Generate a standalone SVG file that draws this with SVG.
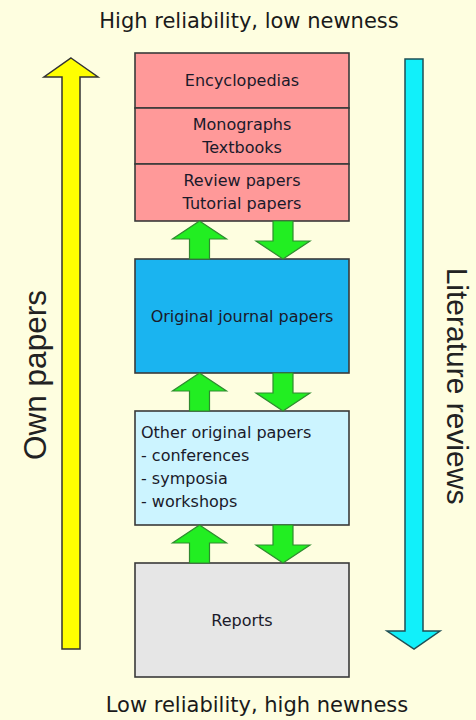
<svg xmlns="http://www.w3.org/2000/svg" xmlns:xlink="http://www.w3.org/1999/xlink" width="476" height="720" viewBox="0 0 476 720">
<style>
.bg{fill:#FEFEE0}
.box{stroke:#3a3a3a;stroke-width:1.6}
.t{font-family:"DejaVu Sans",Verdana,sans-serif;font-size:16px;fill:#1a1a2a}
.tc{text-anchor:middle}
.big{font-family:"DejaVu Sans",Verdana,sans-serif;font-size:21px;fill:#1a1a1a;text-anchor:middle}
.side{font-family:"Liberation Sans",Arial,sans-serif;fill:#222;text-anchor:middle}
.g{fill:#22EE22;stroke:#2E8B2E;stroke-width:1.2}
</style>
<defs>
<path id="up" d="M0,0 L27,18 L10,18 L10,38 L-10,38 L-10,18 L-27,18 Z"/>
<path id="down" d="M0,0 L27,-18 L10,-18 L10,-38 L-10,-38 L-10,-18 L-27,-18 Z"/>
</defs>
<rect class="bg" x="0" y="0" width="476" height="720"/>
<text class="big" x="249" y="28">High reliability, low newness</text>
<text class="big" x="257" y="712">Low reliability, high newness</text>

<g id="own-papers-arrow">
<path d="M71,58 L98,77 L80,77 L80,649 L62,649 L62,77 L44,77 Z" fill="#FFFF00" stroke="#333" stroke-width="1.5"/>
<text class="side" font-size="31.5" transform="translate(46,375) rotate(-90)">Own papers</text>
</g>
<g id="literature-reviews-arrow">
<path d="M405,59 L423,59 L423,631 L440,631 L414,649 L387,631 L405,631 Z" fill="#11F0FA" stroke="#1f4f55" stroke-width="1.5"/>
<text class="side" font-size="30" transform="translate(447,386) rotate(90)">Literature reviews</text>
</g>

<g id="encyclopedias">
<rect class="box" x="135" y="53" width="214" height="55" fill="#FF9999"/>
<text class="t tc" x="242" y="86">Encyclopedias</text>
</g>
<g id="monographs">
<rect class="box" x="135" y="108" width="214" height="56" fill="#FF9999"/>
<text class="t tc" x="242" y="130">Monographs</text>
<text class="t tc" x="242" y="153">Textbooks</text>
</g>
<g id="review-papers">
<rect class="box" x="135" y="164" width="214" height="57" fill="#FF9999"/>
<text class="t tc" x="242" y="186">Review papers</text>
<text class="t tc" x="242" y="209">Tutorial papers</text>
</g>
<g id="original-journal-papers">
<rect class="box" x="135" y="259" width="214" height="114" fill="#1AB4F0"/>
<text class="t tc" x="242" y="322">Original journal papers</text>
</g>
<g id="other-original-papers">
<rect class="box" x="135" y="411" width="214" height="114" fill="#CCF4FF"/>
<text class="t" x="141" y="438">Other original papers</text>
<text class="t" x="141" y="461">- conferences</text>
<text class="t" x="141" y="484">- symposia</text>
<text class="t" x="141" y="507">- workshops</text>
</g>
<g id="reports">
<rect class="box" x="135" y="563" width="214" height="114" fill="#E6E6E6"/>
<text class="t tc" x="242" y="626">Reports</text>
</g>

<g id="connectors">
<use xlink:href="#up" class="g" x="199.5" y="221"/>
<use xlink:href="#down" class="g" x="283" y="259"/>
<use xlink:href="#up" class="g" x="199.5" y="373"/>
<use xlink:href="#down" class="g" x="283" y="411"/>
<use xlink:href="#up" class="g" x="199.5" y="525"/>
<use xlink:href="#down" class="g" x="283" y="563"/>
</g>
</svg>
